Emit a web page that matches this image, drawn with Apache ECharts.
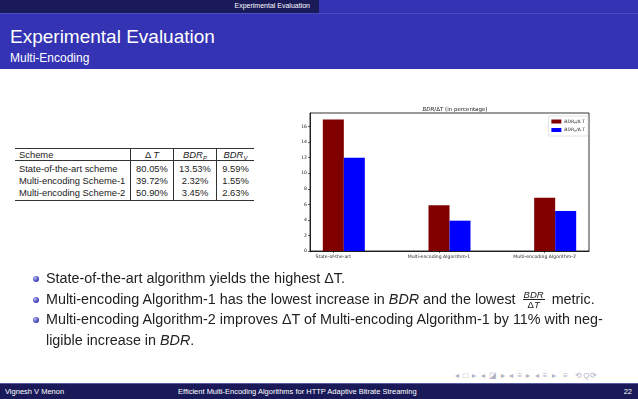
<!DOCTYPE html>
<html lang="en">
<head>
    <meta charset="UTF-8">
    <title>Experimental Evaluation</title>
    <script src="https://cdn.jsdelivr.net/npm/echarts@6.0.0/dist/echarts.min.js"></script>
    <style>
        *{
            margin: 0;
            padding: 0;
            list-style: none;
        }
        html ,body{
            width: 638px;
            height: 399px;
            overflow: hidden;
            background: #fff;
            font-family: "Liberation Sans", sans-serif;
        }
        .abs{ position: absolute; }
        .topbar-l{ left:0; top:0; width:319px; height:13px; background:#1a1a59; }
        .topbar-r{ left:319px; top:0; width:319px; height:13px; background:#3333b3; }
        .topbar-l span{ position:absolute; right:9px; top:2px; color:#fff; font-size:7px; }
        .titlebar{ left:0; top:13px; width:638px; height:55px; background:#3333b3; border-top:1px solid #4a4ac4; }
        .title{ left:10px; top:26px; color:#fff; font-size:19px; }
        .subtitle{ left:10px; top:51px; color:#fff; font-size:12px; }
        table{ position:absolute; left:15px; top:148px; border-collapse:collapse; font-size:9.4px; color:#222; }
        table td, table th{ font-weight:normal; padding:0 4px; height:11.8px; line-height:11.8px; text-align:left; }
        table th{ height:11px; line-height:11px; }
        table sub{ font-size:6px; vertical-align:baseline; position:relative; top:2px; line-height:0; }
        table .num{ text-align:center; }
        table .vl{ border-left:1px solid #333; }
        thead tr{ border-top:1.5px solid #333; border-bottom:1px solid #333; }
        tbody tr:first-child td{ padding-top:2px; }
        tbody tr:last-child td{ padding-bottom:2px; }
        tbody{ border-bottom:1.5px solid #333; }
        i{ font-style: italic; }
        .container{ left:290px; top:95px; width:335px; height:175px; }
        .bullets{ left:30px; top:268px; width:585px; font-size:14.35px; color:#222; }
        .bullets li{ position:relative; padding-left:16px; line-height:20.5px; }
        .bullets li:before{ content:""; position:absolute; left:3px; top:8px; width:6px; height:6px; border-radius:50%;
            background: radial-gradient(circle at 35% 35%, #b8b8ee, #3333b3 70%); }
        .frac{ display:inline-block; vertical-align:middle; text-align:center; font-size:9.5px; line-height:9px; margin:0 3px; }
        .frac span{ display:block; }
        .frac .num1{ border-bottom:1px solid #222; padding:0 1px; }
        .nav{ left:455px; top:371px; font-size:8px; color:#b0b0c0; letter-spacing:1px; }
        .footer{ left:0; top:383px; width:638px; height:16px; background:#1a1a59; border-top:1px solid #5a5aa8; color:#fff; font-size:7.5px; }
        .footer span{ position:absolute; top:3px; }
    </style>
</head>
<body>
<div class="abs topbar-l"><span>Experimental Evaluation</span></div>
<div class="abs topbar-r"></div>
<div class="abs titlebar"></div>
<div class="abs title">Experimental Evaluation</div>
<div class="abs subtitle">Multi-Encoding</div>

<table id="tbl"></table>

<div class="abs container"></div>

<ul class="abs bullets">
    <li>State-of-the-art algorithm yields the highest &Delta;T.</li>
    <li>Multi-encoding Algorithm-1 has the lowest increase in <i>BDR</i> and the lowest <span class="frac"><span class="num1"><i>BDR</i></span><span>&Delta;<i>T</i></span></span> metric.</li>
    <li>Multi-encoding Algorithm-2 improves &Delta;T of Multi-encoding Algorithm-1 by 11% with neg-<br>ligible increase in <i>BDR</i>.</li>
</ul>

<div class="abs nav">◂ □ ▸ ◂ ◪ ▸ ◂ ≡ ▸ ◂ ≡ ▸ &nbsp;≡ &nbsp;⟲Q⟳</div>
<div class="abs footer">
    <span style="left:5px">Vignesh V Menon</span>
    <span style="left:178px">Efficient Multi-Encoding Algorithms for HTTP Adaptive Bitrate Streaming</span>
    <span style="right:6px">22</span>
</div>

<script>
    // table
    let schemes=['State-of-the-art scheme','Multi-encoding Scheme-1','Multi-encoding Scheme-2'];
    let deltaT=['80.05%','39.72%','50.90%'];
    let bdrP=['13.53%','2.32%','3.45%'];
    let bdrV=['9.59%','1.55%','2.63%'];

    // chart
    let categories=['State-of-the-art','Multi-encoding Algorithm-1','Multi-encoding Algorithm-2'];
    let bdrPerT_P=[16.9,5.9,6.85];
    let bdrPerT_V=[12.0,3.9,5.15];
    let yTicks=[0,2,4,6,8,10,12,14,16];

    let tbl=document.querySelector('#tbl');
    let html='<thead><tr><th style="width:107px">Scheme</th><th class="vl num" style="width:34px">&Delta;&thinsp;<i>T</i></th>'+
        '<th class="vl num" style="width:34px"><i>BDR<sub>P</sub></i></th>'+
        '<th class="vl num" style="width:29px"><i>BDR<sub>V</sub></i></th></tr></thead><tbody>';
    schemes.forEach((s,i)=>{
        html+=`<tr><td>${s}</td><td class="vl num">${deltaT[i]}</td><td class="vl num">${bdrP[i]}</td><td class="vl num">${bdrV[i]}</td></tr>`;
    });
    html+='</tbody>';
    tbl.innerHTML=html;

    let container=document.querySelector('.container');
    let mycharts=echarts.init(container);
    let font='DejaVu Sans';
    // group centre sits between the two bars (bar width 0.2)
    let groupX=categories.map((c,i)=>i+0.1);

    let options={
        animation:false,
        title:{
            text:'{i|BDR}/ΔT (in percentage)',
            left:160,
            top:7,
            textAlign:'center',
            textStyle:{
                fontSize:5.5,
                fontWeight:'normal',
                fontFamily:font,
                color:'#222',
                rich:{ i:{fontStyle:'italic',fontSize:5.5,fontFamily:font,color:'#222'} }
            }
        },
        legend:{
            right:37,
            top:21,
            orient:'vertical',
            itemWidth:10,
            itemHeight:4,
            itemGap:3,
            padding:[3,3,3,3],
            borderColor:'#ccc',
            borderWidth:0.6,
            borderRadius:1.5,
            backgroundColor:'#fff',
            icon:'rect',
            textStyle:{fontSize:4.5,fontFamily:font,color:'#222',padding:[0,0,0,-2]},
            formatter:function (name) {
                return name=='P'?'{i|BDR}{s|P}/Δ T':'{i|BDR}{s|V}/Δ T';
            },
            data:['P','V']
        },
        grid:{
            left:20,
            top:18,
            width:279,
            height:138,
            show:true,
            borderColor:'#000',
            borderWidth:0.8
        },
        xAxis:{
            type:'value',
            min:-0.22,
            max:2.42,
            splitLine:{show:false},
            axisLine:{show:true,onZero:false,lineStyle:{color:'#000',width:0.8}},
            axisTick:{show:true,customValues:[0,1,2],length:2,lineStyle:{color:'#000',width:0.6}},
            axisLabel:{
                customValues:[0,1,2],
                formatter:function (v) { return categories[Math.round(v)]; },
                fontSize:4.6,
                fontFamily:font,
                color:'#222',
                margin:3
            }
        },
        yAxis:{
            type:'value',
            min:0,
            max:17.75,
            splitLine:{show:false},
            axisLine:{show:true,onZero:false,lineStyle:{color:'#000',width:0.8}},
            axisTick:{show:true,customValues:yTicks,length:2,lineStyle:{color:'#000',width:0.6}},
            axisLabel:{
                fontSize:4.6,
                fontFamily:font,
                color:'#222',
                margin:3,
                customValues:yTicks
            }
        },
        series:[
            {
                name:'P',
                type:'bar',
                barWidth:21,
                barGap:'0%',
                itemStyle:{color:'#800000'},
                data:groupX.map((x,i)=>[x,bdrPerT_P[i]])
            },
            {
                name:'V',
                type:'bar',
                barWidth:21,
                barGap:'0%',
                itemStyle:{color:'#0000ff'},
                data:groupX.map((x,i)=>[x,bdrPerT_V[i]])
            }
        ]
    };
    options.legend.textStyle.rich={
        i:{fontStyle:'italic',fontSize:4.5,fontFamily:font,color:'#222'},
        s:{fontSize:3.2,fontFamily:font,color:'#222',verticalAlign:'bottom',padding:[3,0,0,0]}
    };

    mycharts.setOption(options)
</script>
</body>
</html>
